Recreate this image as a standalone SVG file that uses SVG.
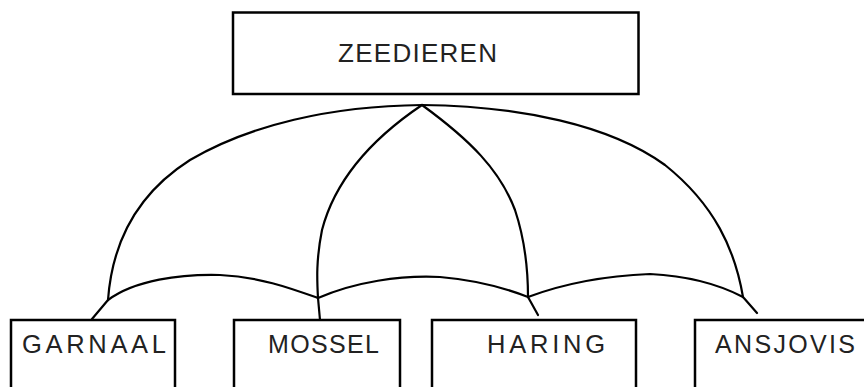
<svg xmlns="http://www.w3.org/2000/svg" width="864" height="387" viewBox="0 0 864 387">
<style>
.box{fill:#fff;stroke:#000;stroke-width:2.5}
.lbl{font-family:"Liberation Sans",Arial,sans-serif;fill:#222;text-anchor:start}
.c{fill:none;stroke:#000;stroke-width:2.2;stroke-linejoin:round;stroke-linecap:round}
</style>
<rect width="864" height="387" fill="#fff"/>
<g id="zeedieren">
<rect class="box" x="233" y="12.5" width="405.5" height="81.5"/>
<text class="lbl" x="338" y="62" font-size="26" textLength="159" lengthAdjust="spacing">ZEEDIEREN</text>
</g>
<g id="garnaal">
<rect class="box" x="11" y="320" width="164" height="80"/>
<text class="lbl" x="22" y="353" font-size="25.5" textLength="144" lengthAdjust="spacing">GARNAAL</text>
</g>
<g id="mossel">
<rect class="box" x="234" y="320" width="166" height="80"/>
<text class="lbl" x="268" y="353" font-size="25" textLength="111" lengthAdjust="spacing">MOSSEL</text>
</g>
<g id="haring">
<rect class="box" x="432" y="320" width="204" height="80"/>
<text class="lbl" x="487" y="353" font-size="25.5" textLength="118" lengthAdjust="spacing">HARING</text>
</g>
<g id="ansjovis">
<rect class="box" x="695" y="320" width="200" height="80"/>
<text class="lbl" x="715" y="353" font-size="25" textLength="140" lengthAdjust="spacing">ANSJOVIS</text>
</g>
<g id="connectors">
<path class="c" d="M422,105 C330,106 250,125 190,160 C135,195 112,245 108,300 L92,319"/>
<path class="c" d="M422,105 C370,140 335,180 322,230 C316,260 317,280 318,298 L320,320"/>
<path class="c" d="M422,105 C470,140 500,170 515,210 C525,240 528,270 528,297 L538,315"/>
<path class="c" d="M422,105 C520,106 610,125 665,165 C715,205 735,250 743,297 L757,313"/>
<path class="c" d="M108,300 C135,280 180,274 220,275 C260,277 290,288 318,298"/>
<path class="c" d="M318,298 C355,282 400,275 440,277 C475,280 505,288 528,297"/>
<path class="c" d="M528,297 C560,285 600,276 650,274 C690,276 720,285 743,297"/>
</g>
</svg>
